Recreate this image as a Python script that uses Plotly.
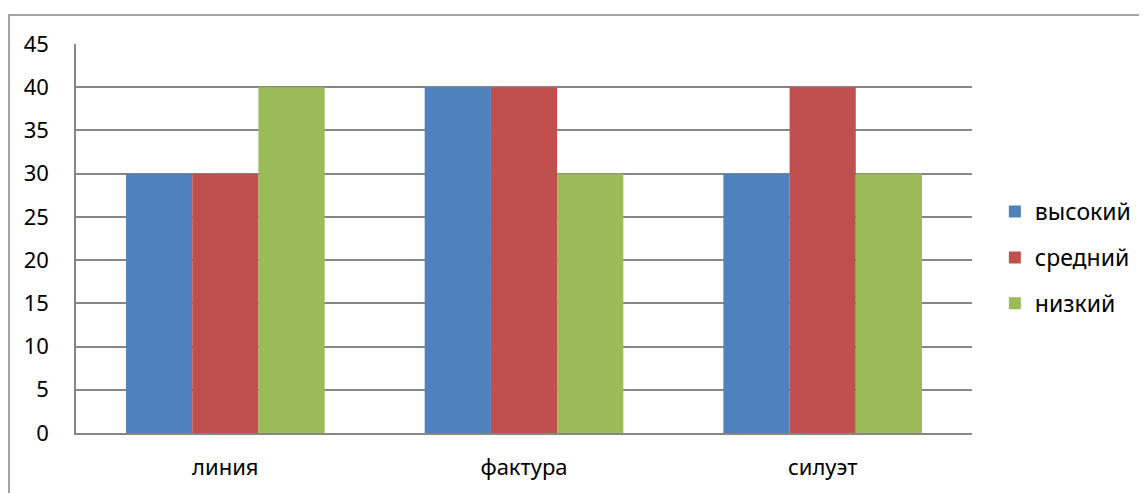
import plotly.graph_objects as go

categories = ["линия", "фактура", "силуэт"]
series_names = ["высокий", "средний", "низкий"]
vysokiy = [30, 40, 30]
sredniy = [30, 40, 40]
nizkiy = [40, 30, 30]
colors = ["#4F81BD", "#C0504D", "#9BBB59"]
y_ticks = [0, 5, 10, 15, 20, 25, 30, 35, 40, 45]

fig = go.Figure()
for i, (name, vals) in enumerate(zip(series_names, [vysokiy, sredniy, nizkiy])):
    fig.add_trace(go.Bar(x=categories, y=vals, name=name, marker_color=colors[i],
                         marker_line_width=0, legendgroup=name))

font = dict(family="Noto Sans, Open Sans, sans-serif", size=22, color="#000000")
fig.update_layout(
    width=1147, height=493,
    margin=dict(l=68, r=183, t=36, b=68, autoexpand=False),
    paper_bgcolor="white", plot_bgcolor="white",
    barmode="group", bargap=0.335, bargroupgap=0,
    font=font,
    showlegend=True,
    legend=dict(x=1.0255, y=0.451, xanchor="left", yanchor="middle",
                traceorder="grouped", tracegroupgap=13,
                font=dict(family="Noto Sans, Open Sans, sans-serif", size=23, color="#000000"),
                itemwidth=30),
    xaxis=dict(showline=True, linecolor="#868686", linewidth=1.5, ticks="",
               ticklabelstandoff=14, showgrid=False, automargin=False),
    yaxis=dict(range=[0, 45], tickvals=y_ticks, showgrid=True, gridcolor="#868686",
               gridwidth=1.5, showline=True, linecolor="#868686", linewidth=1.5,
               ticks="", ticklabelstandoff=21, zeroline=False, automargin=False),
    shapes=[dict(type="rect", xref="paper", yref="paper",
                 x0=(1 - 68) / 896, x1=(1160 - 68) / 896,
                 y0=-(510 - 433) / 389, y1=1 + (44 - 15) / 389,
                 line=dict(color="#868686", width=1.5), layer="below")],
)
fig.write_html("out.html")
